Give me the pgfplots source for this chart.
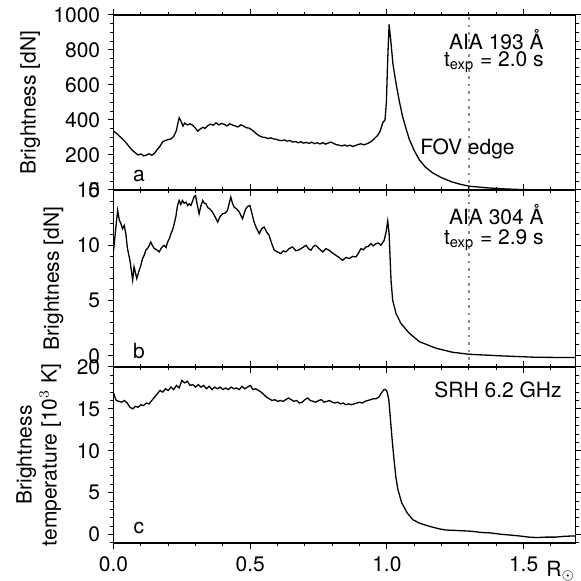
\documentclass[border=0pt]{standalone}
\usepackage{pgfplots}
\pgfplotsset{compat=1.18}
\usepackage{fontspec}
\setmainfont{TeX Gyre Heros}
\begin{document}
\fontsize{10.5}{12.5}\selectfont
\pgfplotsset{
  panel/.style={
    scale only axis, width=231pt, xmin=0, xmax=1.69,
    axis line style={line width=0.6pt},
    tick align=outside, tick style={line width=0.5pt, black},
    major tick length=3pt, minor tick length=1.6pt,
    xtick={0,0.5,1.0,1.5}, minor xtick={0.1,0.2,...,1.6},
    xtick pos=both, ytick pos=both,
    /pgf/number format/assume math mode=true,
    tick label style={font=\fontsize{10.5}{12.5}\selectfont},
    label style={font=\fontsize{10.5}{12.5}\selectfont},
    clip mode=individual,
  },
  curve/.style={black, line width=0.65pt, mark=none},
  fov/.style={black!45, line width=0.8pt, dash pattern=on 1.3pt off 2.4pt, mark=none},
}
\begin{tikzpicture}
\path[use as bounding box] (-53.85pt,-19pt) rectangle (233.65pt,271.5pt);
% panel a
\begin{axis}[panel, at={(0pt,176.5pt)}, anchor=south west, height=87.5pt,
  ymin=0, ymax=1000, ytick={0,200,...,1000}, minor ytick={50,100,...,950},
  xticklabels={}, 
  /pgf/number format/.cd, set thousands separator={}, /pgfplots/.cd,
  ylabel={Brightness [dN]},
  ylabel style={at={(rel axis cs:-0.18,0.5)}, anchor=center}]
\addplot[fov] coordinates {(1.3,0) (1.3,1000)};
\addplot[curve] coordinates {
(0,336) (0.01,325) (0.02,310) (0.03,296) (0.04,280) (0.05,262) (0.06,242) (0.07,225)
(0.08,212) (0.09,200) (0.1,206) (0.11,195) (0.12,199) (0.13,207) (0.14,198) (0.15,210)
(0.16,232) (0.17,250) (0.18,276) (0.19,283) (0.2,288) (0.21,292) (0.22,306) (0.23,340)
(0.235,378) (0.24,413) (0.247,392) (0.254,365) (0.26,382) (0.27,372) (0.28,378) (0.29,369)
(0.3,352) (0.308,336) (0.318,350) (0.327,358) (0.335,352) (0.345,368) (0.355,376) (0.365,370)
(0.375,384) (0.385,372) (0.395,380) (0.405,375) (0.415,366) (0.425,378) (0.435,371) (0.445,366)
(0.455,360) (0.465,372) (0.475,366) (0.485,356) (0.495,354) (0.505,345) (0.515,332) (0.525,318)
(0.535,308) (0.545,302) (0.555,300) (0.565,294) (0.575,298) (0.585,292) (0.595,290) (0.605,284)
(0.615,282) (0.625,286) (0.635,279) (0.645,283) (0.655,274) (0.665,277) (0.675,270) (0.685,276)
(0.695,268) (0.705,272) (0.715,266) (0.725,273) (0.735,265) (0.745,270) (0.755,263) (0.765,271)
(0.775,262) (0.785,268) (0.795,274) (0.805,266) (0.815,259) (0.825,256) (0.835,252) (0.845,257)
(0.855,251) (0.865,256) (0.875,249) (0.885,254) (0.895,260) (0.905,264) (0.915,258) (0.925,263)
(0.935,270) (0.945,280) (0.955,295) (0.965,310) (0.975,335) (0.985,385) (0.993,400)
(0.998,500) (1.003,750) (1.008,946) (1.015,840) (1.022,720) (1.033,612) (1.045,510) (1.057,422)
(1.07,350) (1.082,289) (1.1,225) (1.118,174) (1.14,132) (1.167,98) (1.2,70) (1.24,45)
(1.27,32) (1.3,22) (1.36,13) (1.42,7) (1.48,3) (1.545,1) (1.6,0) (1.69,0)};
\node[anchor=base east] at (rel axis cs:0.947,0.803) {AIA 193 Å};
\node[anchor=base east] at (rel axis cs:0.947,0.707) {t\textsubscript{exp} = 2.0 s};
\node[anchor=base, inner sep=0.5pt] at (rel axis cs:0.766,0.203) {FOV edge};
\node[anchor=base] at (rel axis cs:0.055,0.049) {a};
\end{axis}
% panel b
\begin{axis}[panel, at={(0pt,88pt)}, anchor=south west, height=88.5pt,
  ymin=-1, ymax=15, ytick={0,5,10,15}, minor ytick={-1,1,2,3,4,6,7,8,9,11,12,13,14},
  xticklabels={},
  ylabel={Brightness [dN]},
  ylabel style={at={(rel axis cs:-0.13,0.5)}, anchor=center}]
\addplot[fov] coordinates {(1.3,-1) (1.3,15)};
\addplot[curve] coordinates {
(0,9.5) (0.008,11.5) (0.015,13.15) (0.021,12.3) (0.027,11.95) (0.033,11.5) (0.039,11.8)
(0.045,11.05) (0.051,9.7) (0.06,8.65) (0.07,6.85) (0.075,8.05) (0.085,7.0) (0.094,7.75)
(0.1,8.2) (0.106,8.8) (0.112,9.1) (0.118,9.55) (0.127,9.8) (0.136,10.3) (0.142,10.0) (0.149,9.7)
(0.158,9.6) (0.167,9.4) (0.176,9.8) (0.185,10.0) (0.192,9.8) (0.198,10.3) (0.204,10.6)
(0.21,11.05) (0.216,11.4) (0.222,11.95) (0.228,12.6) (0.234,13.6) (0.24,14.05) (0.246,13.7)
(0.252,14.05) (0.258,13.8) (0.265,13.9) (0.271,13.6) (0.277,13.75) (0.283,13.6) (0.289,14.0)
(0.295,14.4) (0.30,14.5) (0.306,13.7) (0.313,12.85) (0.319,13.5) (0.326,14.05) (0.332,13.8)
(0.338,13.75) (0.345,13.4) (0.352,13.3) (0.362,13.0) (0.371,12.6) (0.381,12.1) (0.39,12.6)
(0.399,12.85) (0.408,12.9) (0.417,13.15) (0.423,13.8) (0.429,14.35) (0.435,13.8) (0.441,13.45)
(0.45,13.3) (0.46,13.0) (0.466,12.7) (0.472,12.4) (0.478,12.9) (0.484,13.3) (0.49,13.5)
(0.499,13.6) (0.506,12.9) (0.514,12.1) (0.522,11.6) (0.533,11.05) (0.542,11.5) (0.551,11.65)
(0.56,11.2) (0.569,10.9) (0.578,10.2) (0.588,9.55) (0.6,9.4) (0.612,9.25) (0.621,9.5) (0.63,9.4)
(0.642,9.7) (0.655,9.85) (0.667,9.5) (0.679,9.6) (0.692,9.8) (0.704,10.0) (0.713,9.7) (0.722,9.55)
(0.731,9.9) (0.74,10.0) (0.752,9.7) (0.765,9.4) (0.777,9.7) (0.789,9.55) (0.801,9.3) (0.813,9.1)
(0.825,8.9) (0.838,8.65) (0.85,8.9) (0.862,8.8) (0.875,9.0) (0.887,8.95) (0.896,9.3) (0.905,9.7)
(0.914,9.6) (0.923,9.85) (0.932,9.9) (0.941,10.15) (0.95,9.95) (0.96,10.15) (0.969,10.2)
(0.978,10.0) (0.99,10.45) (0.997,11.2) (1.003,12.2)
(1.008,11.05) (1.015,6.85) (1.021,5.05) (1.033,3.85) (1.051,2.95) (1.082,2.05) (1.118,1.3)
(1.179,0.7) (1.24,0.33) (1.301,0.15) (1.423,0.0) (1.544,-0.12) (1.69,-0.15)};
\node[anchor=base east] at (rel axis cs:0.947,0.805) {AIA 304 Å};
\node[anchor=base east] at (rel axis cs:0.947,0.691) {t\textsubscript{exp} = 2.9 s};
\node[anchor=base] at (rel axis cs:0.055,0.049) {b};
\end{axis}
% panel c
\begin{axis}[panel, at={(0pt,0pt)}, anchor=south west, height=88pt,
  ymin=-1, ymax=20, ytick={0,5,10,15,20}, minor ytick={-1,1,2,...,19},
  xticklabels={0.0,0.5,1.0,1.5},
  ylabel={Brightness\\temperature [10$^3$ K]},
  ylabel style={at={(rel axis cs:-0.162,0.5)}, anchor=center, align=center}]
\addplot[curve] coordinates {
(0,16.9) (0.005,16.4) (0.01,16.0) (0.02,15.9) (0.03,15.8) (0.04,16.0) (0.05,15.7) (0.06,15.2)
(0.07,15.0) (0.08,15.3) (0.09,15.2) (0.1,15.5) (0.11,15.4) (0.12,15.7) (0.13,15.6) (0.14,16.0)
(0.15,16.4) (0.16,16.8) (0.17,17.2) (0.18,17.0) (0.19,17.4) (0.2,17.2) (0.21,17.6) (0.22,17.3)
(0.23,17.8) (0.24,17.5) (0.25,18.4) (0.26,18.1) (0.27,18.3) (0.28,17.8) (0.29,17.9) (0.3,17.6)
(0.31,17.9) (0.32,17.6) (0.33,17.8) (0.34,17.4) (0.35,17.7) (0.36,17.3) (0.37,17.6) (0.38,17.4)
(0.39,17.6) (0.4,17.3) (0.41,17.5) (0.42,17.3) (0.43,17.6) (0.44,17.4) (0.45,17.5) (0.46,17.3)
(0.47,17.7) (0.48,17.4) (0.49,17.6) (0.5,17.8) (0.51,17.3) (0.52,17.4) (0.53,17.2) (0.54,17.0)
(0.55,16.7) (0.56,16.4) (0.57,16.2) (0.58,16.0) (0.59,16.1) (0.6,15.9) (0.61,16.0) (0.62,15.9)
(0.63,16.1) (0.64,16.3) (0.65,16.1) (0.66,15.9) (0.67,16.0) (0.68,15.7) (0.69,15.8) (0.7,16.1)
(0.71,16.3) (0.72,16.0) (0.73,15.9) (0.74,15.8) (0.75,16.0) (0.76,16.1) (0.77,15.8) (0.78,15.9)
(0.79,16.0) (0.8,15.8) (0.81,15.7) (0.82,15.8) (0.83,15.6) (0.84,15.7) (0.85,15.5) (0.86,15.6)
(0.87,15.5) (0.88,15.6) (0.89,15.7) (0.9,15.8) (0.91,15.7) (0.92,15.9) (0.93,16.0) (0.94,16.1)
(0.95,16.2) (0.96,16.2) (0.97,16.4) (0.98,16.9) (0.989,17.3) (0.995,17.3) (1.0,17.1)
(1.007,16.1) (1.013,13.7) (1.02,11.0) (1.027,8.6) (1.033,6.8) (1.04,5.4) (1.054,3.8) (1.074,2.6)
(1.094,1.8) (1.12,1.35) (1.16,0.95) (1.19,0.7) (1.214,0.55) (1.25,0.5) (1.281,0.45) (1.31,0.4)
(1.348,0.25) (1.38,0.2) (1.415,0.05) (1.45,-0.05) (1.482,-0.15) (1.52,-0.3) (1.549,-0.35)
(1.58,-0.3) (1.616,-0.3) (1.65,-0.2) (1.69,-0.15)};
\node[anchor=base east] at (rel axis cs:0.986,0.824) {SRH 6.2 GHz};
\node[anchor=base] at (rel axis cs:0.055,0.055) {c};
\node[anchor=base] at (rel axis cs:0.968,0) [yshift=-16.85pt] {R$_\odot$};
\end{axis}
\end{tikzpicture}
\end{document}
